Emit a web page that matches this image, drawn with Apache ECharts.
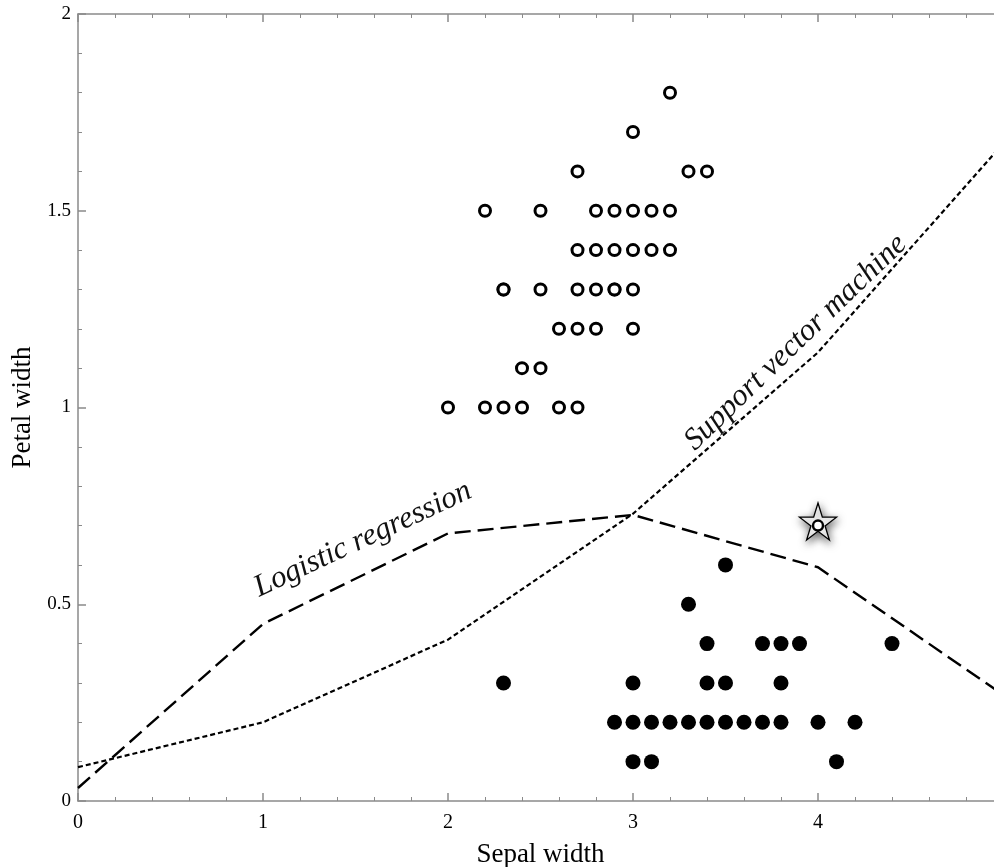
<!DOCTYPE html>
<html>
<head>
<meta charset="utf-8">
<script src="https://cdn.jsdelivr.net/npm/echarts@6/dist/echarts.min.js"></script>
<style>
  html, body { margin: 0; padding: 0; background: #fff; }
  #chart { width: 994px; height: 867px; }
</style>
</head>
<body>
<div id="chart"></div>
<script>
// open circles: [sepal width, petal width]
const openPoints = [
  [3.2, 1.8], [3.0, 1.7], [2.7, 1.6], [3.3, 1.6], [3.4, 1.6],
  [2.2, 1.5], [2.5, 1.5], [2.8, 1.5], [2.9, 1.5], [3.0, 1.5], [3.1, 1.5], [3.2, 1.5],
  [2.7, 1.4], [2.8, 1.4], [2.9, 1.4], [3.0, 1.4], [3.1, 1.4], [3.2, 1.4],
  [2.3, 1.3], [2.3, 1.3], [2.5, 1.3], [2.7, 1.3], [2.8, 1.3], [2.9, 1.3], [2.9, 1.3], [3.0, 1.3],
  [2.6, 1.2], [2.7, 1.2], [2.8, 1.2], [3.0, 1.2],
  [2.4, 1.1], [2.5, 1.1],
  [2.0, 1.0], [2.2, 1.0], [2.3, 1.0], [2.4, 1.0], [2.6, 1.0], [2.7, 1.0]
];

// filled circles
const filledPoints = [
  [3.5, 0.6], [3.3, 0.5],
  [3.4, 0.4], [3.7, 0.4], [3.8, 0.4], [3.9, 0.4], [4.4, 0.4],
  [2.3, 0.3], [3.0, 0.3], [3.4, 0.3], [3.5, 0.3], [3.8, 0.3],
  [2.9, 0.2], [3.0, 0.2], [3.1, 0.2], [3.2, 0.2], [3.3, 0.2], [3.4, 0.2],
  [3.5, 0.2], [3.6, 0.2], [3.7, 0.2], [3.8, 0.2], [4.0, 0.2], [4.2, 0.2],
  [3.0, 0.1], [3.1, 0.1], [4.1, 0.1]
];

// the new flower marked by a star
const starPoint = [[4.0, 0.7]];

// decision boundaries
const lineX = [0, 1, 2, 3, 4, 5];
const logisticY = [0.033, 0.45, 0.68, 0.727, 0.594, 0.27];
const svmY = [0.086, 0.2, 0.41, 0.73, 1.14, 1.67];

const xTicks = { min: 0, max: 5, interval: 1 };
const yTicks = { min: 0, max: 2, interval: 0.5 };

const chart = echarts.init(document.getElementById('chart'));
const serif = 'Liberation Serif';

const axisLineStyle = { color: '#8a8a8a', width: 1.5 };

function frameAxis(extra) {
  return Object.assign({
    type: 'value',
    axisLine: { show: true, onZero: false, lineStyle: axisLineStyle },
    axisTick: { show: true, inside: true, length: 8, lineStyle: axisLineStyle },
    minorTick: { show: true, splitNumber: 5, length: 4, lineStyle: { color: '#8a8a8a', width: 1 } },
    splitLine: { show: false },
    minorSplitLine: { show: false }
  }, extra);
}

const option = {
  animation: false,
  backgroundColor: '#fff',
  // plot runs slightly past the right edge of the picture (x = 5 is cropped)
  grid: { left: 78, top: 14, width: 925, height: 787, outerBoundsMode: 'none', containLabel: false },
  xAxis: [
    frameAxis(Object.assign({}, xTicks, {
      position: 'bottom',
      name: 'Sepal width',
      nameLocation: 'middle',
      nameGap: 40,
      nameTextStyle: { fontFamily: serif, fontSize: 27, color: '#000' },
      axisLabel: {
        fontFamily: serif, fontSize: 20, color: '#000', margin: 12,
        showMaxLabel: false
      }
    })),
    frameAxis(Object.assign({}, xTicks, { position: 'top', axisLabel: { show: false } }))
  ],
  yAxis: [
    frameAxis(Object.assign({}, yTicks, {
      position: 'left',
      name: 'Petal width',
      nameLocation: 'middle',
      nameGap: 42,
      nameTextStyle: { fontFamily: serif, fontSize: 27, color: '#000' },
      axisLabel: { fontFamily: serif, fontSize: 19, color: '#000', margin: 7 }
    })),
    frameAxis(Object.assign({}, yTicks, { position: 'right', axisLabel: { show: false } }))
  ],
  series: [
    {
      name: 'Logistic regression',
      type: 'line',
      data: lineX.map((x, i) => [x, logisticY[i]]),
      showSymbol: false,
      lineStyle: { color: '#000', width: 2.4, type: [16, 7] },
      z: 2
    },
    {
      name: 'Support vector machine',
      type: 'line',
      data: lineX.map((x, i) => [x, svmY[i]]),
      showSymbol: false,
      lineStyle: { color: '#000', width: 2.2, type: [5, 3] },
      z: 2
    },
    {
      type: 'scatter',
      data: openPoints,
      symbol: 'circle',
      symbolSize: 11,
      itemStyle: { color: '#fff', borderColor: '#000', borderWidth: 3, opacity: 1 },
      z: 3
    },
    {
      type: 'scatter',
      data: filledPoints,
      symbol: 'circle',
      symbolSize: 15,
      itemStyle: { color: '#000', opacity: 1 },
      z: 3
    },
    {
      type: 'scatter',
      data: starPoint,
      symbol: 'path://M50,0 L61.2,34.5 L97.6,34.5 L68.2,55.9 L79.4,90.5 L50,69.1 L20.6,90.5 L31.8,55.9 L2.4,34.5 L38.8,34.5 Z',
      symbolSize: 37,
      symbolOffset: [0, -4],
      itemStyle: {
        color: '#fff', borderColor: '#000', borderWidth: 1.3, opacity: 1,
        shadowBlur: 9, shadowColor: 'rgba(0,0,0,0.6)', shadowOffsetX: 1, shadowOffsetY: 3
      },
      z: 4
    },
    {
      type: 'scatter',
      data: starPoint,
      symbol: 'circle',
      symbolSize: 10,
      itemStyle: { color: '#fff', borderColor: '#000', borderWidth: 2.5, opacity: 1 },
      z: 5
    }
  ]
};

chart.setOption(option);

// curve labels placed in data coordinates
const curveLabels = [
  { text: 'Logistic regression', at: [1.54, 0.665], angle: 25 },
  { text: 'Support vector machine', at: [3.88, 1.165], angle: 44 }
];

chart.setOption({
  graphic: curveLabels.map(l => {
    const p = chart.convertToPixel({ gridIndex: 0 }, l.at);
    return {
      type: 'text',
      x: p[0], y: p[1],
      rotation: l.angle * Math.PI / 180,
      style: {
        text: l.text,
        fontFamily: serif,
        fontStyle: 'italic',
        fontSize: 31,
        fill: '#111',
        align: 'center',
        verticalAlign: 'middle'
      },
      z: 10
    };
  })
});
</script>
</body>
</html>
